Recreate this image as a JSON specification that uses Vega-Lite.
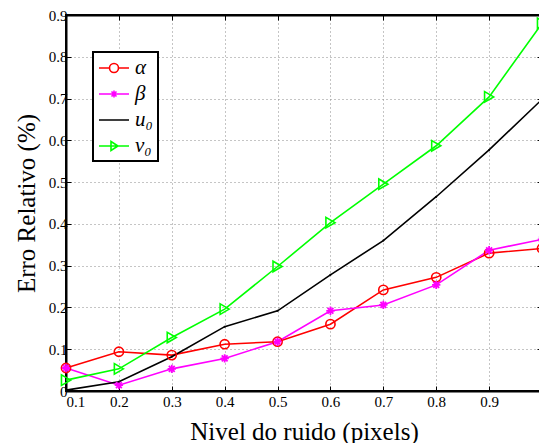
{
  "$schema": "https://vega.github.io/schema/vega-lite/v6.json",
  "width": 476,
  "height": 376,
  "autosize": "none",
  "padding": {"left": 66, "top": 15, "right": 0, "bottom": 52},
  "background": "white",
  "config": {
    "view": {"stroke": "black", "strokeWidth": 2},
    "font": "Liberation Serif",
    "legend": {"labelFont": "Liberation Serif", "labelFontStyle": "italic", "labelFontSize": 21, "strokeWidth": 2, "symbolFillColor": "transparent"},
    "axis": {
      "labelFont": "Liberation Serif",
      "labelFontSize": 15,
      "labelColor": "black",
      "titleFont": "Liberation Serif",
      "titleFontSize": 25,
      "titleFontWeight": "normal",
      "titleColor": "black",
      "domainColor": "black",
      "domainWidth": 2,
      "tickColor": "black",
      "tickWidth": 1,
      "gridColor": "#8a8a8a",
      "gridDash": [1, 3],
      "gridWidth": 1
    }
  },
  "data": {
    "values": [
      {"x": 0.1, "s": "α", "v": 0.055}, {"x": 0.2, "s": "α", "v": 0.094}, {"x": 0.3, "s": "α", "v": 0.086}, {"x": 0.4, "s": "α", "v": 0.112}, {"x": 0.5, "s": "α", "v": 0.118},
      {"x": 0.6, "s": "α", "v": 0.160}, {"x": 0.7, "s": "α", "v": 0.242}, {"x": 0.8, "s": "α", "v": 0.272}, {"x": 0.9, "s": "α", "v": 0.330}, {"x": 1.0, "s": "α", "v": 0.341},
      {"x": 0.1, "s": "β", "v": 0.055}, {"x": 0.2, "s": "β", "v": 0.014}, {"x": 0.3, "s": "β", "v": 0.053}, {"x": 0.4, "s": "β", "v": 0.078}, {"x": 0.5, "s": "β", "v": 0.118},
      {"x": 0.6, "s": "β", "v": 0.192}, {"x": 0.7, "s": "β", "v": 0.206}, {"x": 0.8, "s": "β", "v": 0.254}, {"x": 0.9, "s": "β", "v": 0.337}, {"x": 1.0, "s": "β", "v": 0.363},
      {"x": 0.1, "s": "u₀", "v": 0.002}, {"x": 0.2, "s": "u₀", "v": 0.022}, {"x": 0.3, "s": "u₀", "v": 0.082}, {"x": 0.4, "s": "u₀", "v": 0.154}, {"x": 0.5, "s": "u₀", "v": 0.192},
      {"x": 0.6, "s": "u₀", "v": 0.278}, {"x": 0.7, "s": "u₀", "v": 0.360}, {"x": 0.8, "s": "u₀", "v": 0.465}, {"x": 0.9, "s": "u₀", "v": 0.577}, {"x": 1.0, "s": "u₀", "v": 0.698},
      {"x": 0.1, "s": "v₀", "v": 0.026}, {"x": 0.2, "s": "v₀", "v": 0.053}, {"x": 0.3, "s": "v₀", "v": 0.128}, {"x": 0.4, "s": "v₀", "v": 0.196}, {"x": 0.5, "s": "v₀", "v": 0.298},
      {"x": 0.6, "s": "v₀", "v": 0.403}, {"x": 0.7, "s": "v₀", "v": 0.495}, {"x": 0.8, "s": "v₀", "v": 0.587}, {"x": 0.9, "s": "v₀", "v": 0.704}, {"x": 1.0, "s": "v₀", "v": 0.880}
    ]
  },
  "resolve": {"axis": {"x": "independent", "y": "independent"}},
  "layer": [
    {
      "mark": {"type": "line", "strokeWidth": 1.6},
      "encoding": {
        "x": {
          "field": "x", "type": "quantitative",
          "scale": {"domain": [0.1, 1.0], "nice": false, "zero": false},
          "axis": {"orient": "bottom", "values": [0.1, 0.2, 0.3, 0.4, 0.5, 0.6, 0.7, 0.8, 0.9], "format": ".1~f", "tickSize": -5, "labelPadding": 8, "title": "Nivel do ruido (pixels)", "titlePadding": 10, "grid": true}
        },
        "y": {
          "field": "v", "type": "quantitative",
          "scale": {"domain": [0, 0.9], "nice": false},
          "axis": {"orient": "left", "values": [0, 0.1, 0.2, 0.3, 0.4, 0.5, 0.6, 0.7, 0.8, 0.9], "format": ".1~f", "tickSize": -5, "labelPadding": 4, "title": "Erro Relativo (%)", "titlePadding": 9, "grid": true}
        },
        "color": {
          "field": "s", "type": "nominal",
          "scale": {"domain": ["α", "β", "u₀", "v₀"], "range": ["#ff0000", "#ff00ff", "#000000", "#00ff00"]},
          "legend": {
            "orient": "none",
            "legendX": 27,
            "legendY": 37,
            "title": null,
            "fillColor": "white",
            "strokeColor": "black",
            "padding": 5,
            "rowPadding": 5,
            "symbolSize": 400,
            "symbolOpacity": 1,
            "symbolStrokeWidth": 1.6,
            "symbolFillColor": "transparent",
            "labelFont": "Liberation Serif",
            "labelFontSize": 21,
            "labelFontStyle": "italic",
            "labelColor": "black",
            "labelOffset": 15,
            "labelLimit": 100
          }
        }
      }
    },
    {
      "mark": {"type": "point", "filled": false, "strokeWidth": 1.6, "opacity": 0, "size": 400},
      "encoding": {
        "x": {
          "field": "x", "type": "quantitative",
          "axis": {"orient": "top", "values": [0.1, 0.2, 0.3, 0.4, 0.5, 0.6, 0.7, 0.8, 0.9, 1.0], "labels": false, "tickSize": -5, "grid": false, "title": null}
        },
        "y": {
          "field": "v", "type": "quantitative",
          "axis": {"orient": "right", "values": [0, 0.1, 0.2, 0.3, 0.4, 0.5, 0.6, 0.7, 0.8, 0.9], "labels": false, "tickSize": -5, "grid": false, "title": null}
        },
        "color": {"field": "s", "type": "nominal"},
        "shape": {
          "field": "s", "type": "nominal",
          "scale": {"domain": ["α", "β", "u₀", "v₀"], "range": [
            "M-1,0L0.05,0M0.95,0L2,0M0.05,0A0.45,0.45 0 1,1 0.95,0A0.45,0.45 0 1,1 0.05,0",
            "M-1,0L2,0M0.5,-0.35L0.5,0.35M0.25,-0.25L0.75,0.25M0.25,0.25L0.75,-0.25",
            "M-1,0L2,0M0.42,0L0.58,0",
            "M-1,0L2,0M0.2,-0.45L0.9,0L0.2,0.45Z"
          ]}
        }
      }
    },
    {
      "transform": [{"filter": "datum.s === 'α'"}],
      "mark": {"type": "point", "shape": "circle", "filled": false, "strokeWidth": 1.6, "opacity": 1, "size": 85, "color": "#ff0000"},
      "encoding": {
        "x": {"field": "x", "type": "quantitative", "axis": null},
        "y": {"field": "v", "type": "quantitative", "axis": null}
      }
    },
    {
      "transform": [{"filter": "datum.s === 'β'"}],
      "mark": {"type": "point", "shape": "M-1,0L1,0M0,-1L0,1M-0.7,-0.7L0.7,0.7M-0.7,0.7L0.7,-0.7", "filled": false, "strokeWidth": 1.8, "opacity": 1, "size": 70, "color": "#ff00ff"},
      "encoding": {
        "x": {"field": "x", "type": "quantitative", "axis": null},
        "y": {"field": "v", "type": "quantitative", "axis": null}
      }
    },
    {
      "transform": [{"filter": "datum.s === 'u₀'"}],
      "mark": {"type": "point", "shape": "circle", "filled": true, "opacity": 1, "size": 4, "color": "#000000"},
      "encoding": {
        "x": {"field": "x", "type": "quantitative", "axis": null},
        "y": {"field": "v", "type": "quantitative", "axis": null}
      }
    },
    {
      "transform": [{"filter": "datum.s === 'v₀'"}],
      "mark": {"type": "point", "shape": "triangle-right", "filled": false, "strokeWidth": 1.6, "opacity": 1, "size": 110, "color": "#00ff00"},
      "encoding": {
        "x": {"field": "x", "type": "quantitative", "axis": null},
        "y": {"field": "v", "type": "quantitative", "axis": null}
      }
    }
  ]
}
